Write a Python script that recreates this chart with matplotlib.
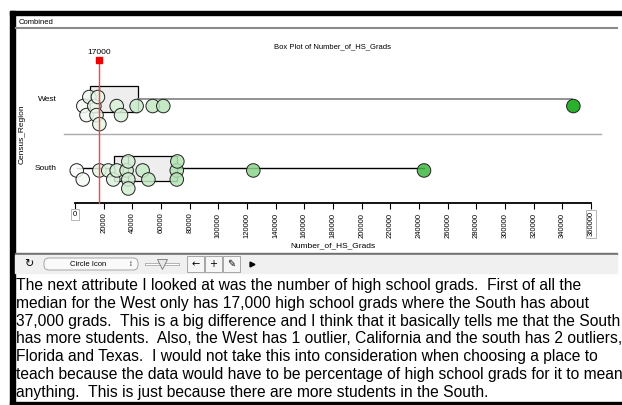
import numpy as np
import matplotlib
matplotlib.use("Agg")
import matplotlib.pyplot as plt
from matplotlib.colors import LinearSegmentedColormap, PowerNorm
from matplotlib.patches import Rectangle, FancyBboxPatch
from matplotlib.transforms import blended_transform_factory

plt.rcParams['font.family'] = ['Liberation Sans', 'DejaVu Sans']

# values
regions = ["South", "West"]
west_grads = [5800, 8000, 10000, 13500, 15000, 16000, 17000, 29100, 32100,
              43000, 54200, 61600, 347700]
south_grads = [1200, 5400, 17000, 23200, 26700, 29100, 36000, 37200, 37200,
               37200, 47200, 51200, 71000, 71000, 71400, 124400, 243500]
# box stats as Fathom drew them: low whisker, Q1, median, Q3, high whisker
south_box = [1200, 27400, 37000, 71000, 243500]
west_box = [5400, 10500, 17000, 43700, 347000]
marked_value = 17000
x_ticks = list(range(0, 360001, 20000))

paragraph = [
    "The next attribute I looked at was the number of high school grads.  First of all the",
    "median for the West only has 17,000 high school grads where the South has about",
    "37,000 grads.  This is a big difference and I think that it basically tells me that the South",
    "has more students.  Also, the West has 1 outlier, California and the south has 2 outliers,",
    "Florida and Texas.  I would not take this into consideration when choosing a place to",
    "teach because the data would have to be percentage of high school grads for it to mean",
    "anything.  This is just because there are more students in the South.",
]

W, H = 622, 405
fig = plt.figure(figsize=(W / 100, H / 100), dpi=100)

# background layer in pixel units for the window chrome and the text
bg = fig.add_axes([0, 0, 1, 1])
bg.set_xlim(0, W)
bg.set_ylim(H, 0)
bg.axis("off")

# black frame
bg.add_patch(Rectangle((10, 11), W - 10, 4, color="black"))
bg.add_patch(Rectangle((10, 11), 5, H - 11, color="black"))
bg.add_patch(Rectangle((10, 402), W - 10, 3, color="black"))
bg.text(19, 22, "Combined", fontsize=5.5, va="center", ha="left")
bg.plot([16, 617], [28, 28], color="#8a8a8a", lw=1.5)

# toolbar
bg.add_patch(Rectangle((15, 253), 602, 2, color="#707070"))
bg.add_patch(Rectangle((15, 255), 602, 18, color="#f0f0f0"))
bg.text(28.5, 264, "\u21bb", fontsize=8, ha="center", va="center", family=["DejaVu Sans"])
bg.add_patch(FancyBboxPatch((44, 258), 94, 12, boxstyle="round,pad=0,rounding_size=5",
                            fc="#fafafa", ec="#9a9a9a", lw=0.6))
bg.text(88, 264, "Circle Icon", fontsize=5.5, ha="center", va="center")
bg.text(131, 264, "\u2195", fontsize=5.5, ha="center", va="center")
bg.plot([146, 178], [264, 264], color="#9a9a9a", lw=2)
bg.plot([146, 178], [264, 264], color="white", lw=1)
bg.plot([162], [264], marker="v", ms=7, mfc="#e8e8e8", mec="#777777", mew=0.6)
for x0, sym in [(187, "\u2190"), (205, "+"), (223, "\u270e")]:
    bg.add_patch(Rectangle((x0, 256), 17, 16, fc="#f6f6f6", ec="#9a9a9a", lw=0.6))
    bg.text(x0 + 8.5, 264, sym, fontsize=7, ha="center", va="center",
            family=["DejaVu Sans"])
bg.plot([252], [264], marker=">", ms=3.5, color="black")

# the paragraph runs past the right edge in the original screenshot, so it is cut there too
for i, line in enumerate(paragraph):
    bg.text(16, 290 + i * 17.8, line, fontsize=11.25, ha="left", va="baseline")

# the plot
ax = fig.add_axes([75 / W, 1 - 203 / H, 516 / W, 138.5 / H])
ax.patch.set_alpha(0)

# box plots
stats = []
for b in [south_box, west_box]:
    stats.append(dict(whislo=b[0], q1=b[1], med=b[2], q3=b[3], whishi=b[4], fliers=[]))
parts = ax.bxp(stats, positions=[0, 1], vert=False, widths=0.37, patch_artist=True,
               showcaps=False,
               boxprops=dict(facecolor="#eeeeee", edgecolor="black", linewidth=0.9),
               medianprops=dict(color="black", linewidth=0.9),
               whiskerprops=dict(color="black", linewidth=1.0))
for wl in parts["whiskers"][2:]:
    wl.set_color("#808080")
    wl.set_linewidth(1.2)

ax.set_xlim(0, 360000)
ax.set_ylim(-0.5, 1.5)
for s in ["top", "right", "left"]:
    ax.spines[s].set_visible(False)
ax.spines["bottom"].set_linewidth(1.3)
ax.set_yticks([])
ax.set_xticks(x_ticks)
ax.set_xticklabels([""] + [str(t) for t in x_ticks[1:-1]] + [""],
                   rotation=90, fontsize=5.5, va="top")
ax.tick_params(axis="x", length=4, width=0.8, pad=3)

trans = blended_transform_factory(ax.transData, ax.transAxes)
ax.text(0, -0.085, "0", transform=trans, fontsize=5.5, ha="center", va="center",
        bbox=dict(boxstyle="square,pad=0.25", fc="white", ec="#aaaaaa", lw=0.6))
ax.text(360000, -0.06, "360000", transform=trans, fontsize=5.5, ha="center",
        va="top", rotation=90,
        bbox=dict(boxstyle="square,pad=0.2", fc="white", ec="#aaaaaa", lw=0.6))

ax.set_xlabel("Number_of_HS_Grads", fontsize=6, labelpad=3)
ax.set_title("Box Plot of Number_of_HS_Grads", fontsize=5.5, pad=12)
ax.text(-0.103, 0.5, "Census_Region", transform=ax.transAxes, rotation=90,
        fontsize=6, ha="center", va="center")
for row, name in enumerate(regions):
    ax.text(-0.035, row, name, transform=blended_transform_factory(ax.transAxes, ax.transData),
            fontsize=6, ha="right", va="center")

# separator between the two rows
ax.plot([-8000, 367000], [0.5, 0.5], color="#aaaaaa", lw=1, clip_on=False)

# stacked points, dodged so they don't sit on each other
px_per_unit = 516 / 360000
row_px = 69.0
cmap = LinearSegmentedColormap.from_list("wg", ["white", "#00a000"])
norm = PowerNorm(0.75, 0, 360000)


def dodge(values, min_d=8.0, step=4.5):
    placed = []
    offs = []
    for v in values:
        x = v * px_per_unit
        k = 0
        while True:
            cand = ((k + 1) // 2) * step * (1 if k % 2 == 1 else -1)
            if all((x - px) ** 2 + (cand - py) ** 2 >= min_d ** 2 for px, py in placed):
                break
            k += 1
        placed.append((x, cand))
        offs.append(cand)
    return np.array(offs)


for row, vals, base in [(0, south_grads, -0.03), (1, west_grads, -0.1)]:
    vals = np.sort(np.array(vals, dtype=float))
    offs = dodge(vals) / row_px
    cols = cmap(norm(vals))
    cols[:, 3] = 0.85
    ax.scatter(vals, row + base - offs, s=95, c=cols, edgecolors="#222222",
               linewidths=0.7, zorder=3, clip_on=False)

# marked median line
ax.axvline(marked_value, ymin=0, ymax=1.03, color="#ff4040", lw=1.0, zorder=4, clip_on=False)
ax.plot([marked_value], [1.56], marker="s", ms=4.5, color="#ee0000", clip_on=False, zorder=5)
ax.text(marked_value, 1.68, f"{marked_value}", fontsize=6, ha="center", va="center")

fig.savefig("out.png", dpi=100)
